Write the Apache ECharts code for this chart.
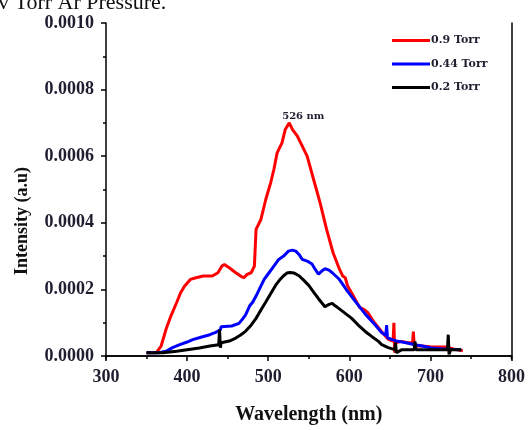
<!DOCTYPE html>
<html>
<head>
<meta charset="utf-8">
<script src="https://cdn.jsdelivr.net/npm/echarts@6/dist/echarts.min.js"></script>
<style>
  html, body { margin: 0; padding: 0; background: #fff; }
  #chart { width: 528px; height: 430px; }
</style>
</head>
<body>
<div id="chart"></div>
<script>
// Emission spectra at three Ar pressures: [wavelength (nm), intensity (a.u.)]
const spec09 = [
  [350,0.00001],[362,0.00001],[368,0.00003],[374,0.00008],[380,0.00012],[387,0.00016],[392,0.00019],
  [397,0.00021],[404,0.00023],[411,0.000235],[420,0.00024],[431,0.00024],[438,0.00025],[443,0.00027],
  [446,0.000275],[452,0.000265],[460,0.00025],[466,0.00024],[470,0.000235],[474,0.000245],[479,0.00025],
  [483,0.00027],[485,0.00038],[491,0.00041],[497,0.00047],[503,0.00052],[507,0.00056],[511,0.00061],
  [517,0.00064],[521,0.00068],[526,0.0007],[530,0.00068],[536,0.00066],[542,0.00063],[548,0.0006],
  [556,0.00053],[564,0.00046],[572,0.00038],[580,0.00031],[588,0.00026],[592,0.00024],[595,0.000235],
  [598,0.00021],[605,0.00018],[613,0.000145],[618,0.00014],[623,0.00013],[631,0.0001],[640,0.000073],
  [648,0.00005],[654,0.000045],[655,0.0001],[656,0.00001],[657,0.00004],[664,0.000044],[672,0.00004],
  [678,0.00004],[679,0.000073],[680,0.00003],[689,0.00003],[700,0.000028],[720,0.000027],[730,0.00002],
  [740,0.000016]
];
const spec044 = [
  [350,0.00001],[365,0.00001],[374,0.000014],[382,0.000025],[391,0.000034],[400,0.000042],[407,0.000049],
  [418,0.000057],[428,0.000064],[436,0.000072],[441,0.000079],[442,0.000088],[455,0.00009],[464,0.000098],
  [468,0.00011],[472,0.000123],[477,0.00015],[481,0.000162],[485,0.00018],[489,0.0002],[495,0.00023],
  [501,0.00025],[507,0.00027],[513,0.00029],[519,0.0003],[525,0.000315],[530,0.000318],[534,0.000315],
  [538,0.000305],[542,0.00029],[548,0.000285],[554,0.000276],[558,0.00026],[562,0.000246],[566,0.000255],
  [570,0.000262],[575,0.000258],[579,0.00025],[587,0.000232],[592,0.000215],[597,0.000197],[604,0.000175],
  [611,0.000153],[620,0.000125],[632,0.000093],[640,0.00007],[645,0.000062],[646,0.000093],[647,0.000055],
  [652,0.00005],[660,0.000044],[670,0.00004],[681,0.000034],[690,0.00003],[701,0.000024],[720,0.00002],
  [738,0.000019]
];
const spec02 = [
  [350,0.00001],[370,0.00001],[387,0.000014],[400,0.000019],[415,0.000024],[428,0.00003],[439,0.000034],
  [440,0.000079],[441,0.000025],[442,0.00004],[452,0.000045],[460,0.000054],[466,0.000063],[472,0.000074],
  [478,0.00009],[485,0.000113],[491,0.000138],[497,0.000162],[503,0.000187],[509,0.000212],[514,0.000228],
  [519,0.000241],[523,0.000249],[527,0.000251],[532,0.000249],[538,0.000241],[544,0.000227],[550,0.000212],
  [556,0.000192],[562,0.000172],[566,0.00016],[570,0.000148],[575,0.000155],[579,0.000158],[583,0.00015],
  [587,0.000143],[595,0.000128],[603,0.000113],[611,0.000093],[620,0.000073],[628,0.000058],[636,0.000044],
  [640,0.000034],[648,0.000025],[656,0.000019],[657,0.00004],[658,0.00001],[665,0.000019],[680,0.000019],
  [681,0.000044],[682,0.000019],[700,0.000019],[721,0.000019],[722,0.000064],[723,0.000005],[725,0.000019],
  [738,0.000019]
];
const seriesNames = ['0.9 Torr', '0.44 Torr', '0.2 Torr'];
const seriesColors = ['#ff0000', '#0000ff', '#000000'];
const peakWavelength = 526;
const peakIntensity = 0.0007;
const xTicks = [300, 400, 500, 600, 700, 800];
const yTicks = [0, 0.0002, 0.0004, 0.0006, 0.0008, 0.0010];

const serif = '"Liberation Serif", "Times New Roman", serif';
const labelColor = '#1e1e30';
const chart = echarts.init(document.getElementById('chart'), null, { renderer: 'canvas' });

const axisLine = { show: true, lineStyle: { color: '#000', width: 1.5 } };
const spectra = [spec09, spec044, spec02];

const option = {
  backgroundColor: '#fff',
  animation: false,
  grid: { left: 106, right: 14, top: 23, bottom: 68.5, containLabel: false },
  legend: {
    orient: 'vertical',
    left: 392,
    top: 35,
    padding: 0,
    itemGap: 12.5,
    itemWidth: 38,
    itemHeight: 3,
    icon: 'rect',
    data: seriesNames,
    textStyle: { fontFamily: '"DejaVu Serif", serif', fontWeight: 'bold', fontSize: 11, color: labelColor, padding: [0, 0, 0, -4] }
  },
  xAxis: [{
    type: 'value',
    min: xTicks[0],
    max: xTicks[xTicks.length - 1],
    interval: 100,
    offset: 3,
    name: 'Wavelength (nm)',
    nameLocation: 'middle',
    nameGap: 46,
    nameTextStyle: { fontFamily: serif, fontWeight: 'bold', fontSize: 20, color: '#111' },
    axisLine: axisLine,
    axisTick: { show: true, inside: false, length: 5, lineStyle: { color: '#000', width: 1.5 } },
    minorTick: { show: true, splitNumber: 2, length: 3, lineStyle: { color: '#000', width: 1.5 } },
    axisLabel: { margin: 9, fontFamily: serif, fontWeight: 'bold', fontSize: 18, color: labelColor },
    splitLine: { show: false }
  }, {
    type: 'value',
    position: 'top',
    min: xTicks[0],
    max: xTicks[xTicks.length - 1],
    axisLine: axisLine,
    axisTick: { show: false },
    axisLabel: { show: false },
    splitLine: { show: false }
  }],
  yAxis: [{
    type: 'value',
    min: yTicks[0],
    max: yTicks[yTicks.length - 1],
    interval: 0.0002,
    axisLine: axisLine,
    axisTick: { show: true, inside: false, length: 5, lineStyle: { color: '#000', width: 1.5 } },
    minorTick: { show: true, splitNumber: 2, length: 3, lineStyle: { color: '#000', width: 1.5 } },
    axisLabel: {
      margin: 12, fontFamily: serif, fontWeight: 'bold', fontSize: 18, color: labelColor,
      formatter: v => v.toFixed(4)
    },
    splitLine: { show: false }
  }, {
    type: 'value',
    position: 'right',
    min: yTicks[0],
    max: yTicks[yTicks.length - 1],
    axisLine: axisLine,
    axisTick: { show: false },
    axisLabel: { show: false },
    splitLine: { show: false }
  }],
  series: spectra.map((d, i) => ({
    name: seriesNames[i],
    type: 'line',
    data: d,
    showSymbol: false,
    symbol: 'none',
    lineStyle: { color: seriesColors[i], width: 3 },
    itemStyle: { color: seriesColors[i] },
    z: 2 + i,
    markPoint: i === 0 ? {
      symbol: 'circle',
      symbolSize: 0,
      data: [{ coord: [peakWavelength, peakIntensity], value: peakWavelength }],
      label: {
        show: true,
        position: 'top',
        offset: [14, 4],
        formatter: p => p.value + ' nm',
        fontFamily: '"DejaVu Serif", serif',
        fontWeight: 'bold',
        fontSize: 10,
        color: labelColor
      }
    } : undefined
  }))
};
chart.setOption(option);

// Close the frame where the offset bottom axis sits below the zero line,
// and add the vertical axis title and the caption fragment above the plot.
const p0 = chart.convertToPixel({ gridIndex: 0 }, [xTicks[0], 0]);
const p1 = chart.convertToPixel({ gridIndex: 0 }, [xTicks[xTicks.length - 1], 0]);
chart.setOption({
  graphic: [
    { type: 'line', shape: { x1: p0[0], y1: p0[1], x2: p0[0], y2: p0[1] + 3.5 }, style: { stroke: '#000', lineWidth: 1.5 }, z: 10 },
    { type: 'line', shape: { x1: p1[0], y1: p1[1], x2: p1[0], y2: p1[1] + 3.5 }, style: { stroke: '#000', lineWidth: 1.5 }, z: 10 },
    {
      type: 'text', x: 22, y: 221, rotation: Math.PI / 2,
      style: { text: 'Intensity (a.u)', fontFamily: serif, fontWeight: 'bold', fontSize: 18, fill: '#111', align: 'center', verticalAlign: 'middle' }
    },
    {
      type: 'text', x: -2, y: 14,
      style: { text: 'v Torr Ar Pressure.', fontFamily: serif, fontSize: 22, fill: '#111', align: 'left', verticalAlign: 'bottom' }
    }
  ]
});
</script>
</body>
</html>
